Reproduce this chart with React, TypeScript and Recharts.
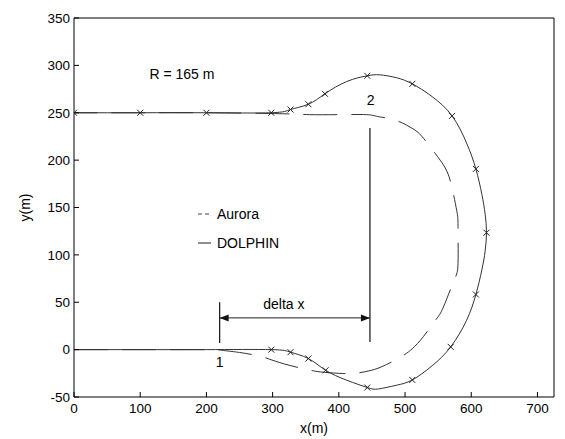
import {
  ComposedChart,
  Line,
  Scatter,
  XAxis,
  YAxis,
  ReferenceLine,
  ReferenceDot,
  Legend,
} from 'recharts'

const xTicks = [0, 100, 200, 300, 400, 500, 600, 700]
const yTicks = [-50, 0, 50, 100, 150, 200, 250, 300, 350]

// DOLPHIN (solid): lower straight, loop round, back along y = 250
const dolphinX = [0, 100, 200, 298, 327, 354, 380, 412, 443, 460, 487, 511, 541, 569, 593, 607, 616, 621, 623, 621, 616, 607, 593, 571, 541, 511, 487, 462, 443, 412, 379, 354, 327, 298, 200, 100, 0]
const dolphinY = [0, 0, 0, 0, -2.7, -9.4, -21.8, -32.3, -40, -41.5, -37.6, -32, -17, 2.9, 31, 58.2, 84, 104, 123.4, 143, 164, 190.7, 218, 246.7, 267, 280.5, 287, 290, 289, 283, 270, 259, 253.4, 250, 250, 250, 250]

// Aurora (dashed)
const auroraX = [0, 100, 200, 221, 250, 281, 299, 325, 352, 372, 400, 424, 445, 465, 493, 511, 528, 547, 558, 574, 580, 580, 578, 568, 553, 528, 512, 486, 459, 442, 400, 356, 311, 200, 100, 0]
const auroraY = [0, 0, 0, -0.5, -3, -7, -11, -16.5, -21, -23.5, -25, -25, -22.5, -18, -8, 1, 14, 32, 45, 73, 91, 130, 147, 179, 200, 223, 233, 242, 246, 248, 248, 248, 249, 250, 250, 250]

// x marks on the DOLPHIN track
const markX = [0, 100, 200, 298, 327, 354, 379, 443, 511, 571, 607, 623, 607, 569, 511, 443, 380, 354, 327, 298]
const markY = [250, 250, 250, 250, 253.4, 259, 270, 289, 280.5, 246.7, 190.7, 123.4, 58.2, 2.9, -32, -40, -21.8, -9.4, -2.7, 0]

const legendItems = [
  { name: 'Aurora', dash: '4 3' },
  { name: 'DOLPHIN', dash: undefined },
]

const dolphinData = dolphinX.map((x, i) => ({ x, y: dolphinY[i] }))
const auroraData = auroraX.map((x, i) => ({ x, y: auroraY[i] }))
const markData = markX.map((x, i) => ({ x, y: markY[i] }))

const ink = '#000'
const curve = '#333'
const tickStyle = { fill: ink, fontSize: 13.5 }

function XMark(props: any) {
  const { cx, cy } = props
  const s = 3
  return (
    <path
      d={`M${cx - s},${cy - s}L${cx + s},${cy + s}M${cx - s},${cy + s}L${cx + s},${cy - s}`}
      stroke="#222"
      strokeWidth={1}
      fill="none"
    />
  )
}

function DoubleArrow(props: any) {
  const { x1, y1, x2 } = props
  const l = Math.min(x1, x2)
  const r = Math.max(x1, x2)
  return (
    <g>
      <line x1={l} y1={y1} x2={r} y2={y1} stroke="#222" strokeWidth={1} />
      <polygon points={`${l},${y1} ${l + 9},${y1 - 3.5} ${l + 9},${y1 + 3.5}`} fill="#111" />
      <polygon points={`${r},${y1} ${r - 9},${y1 - 3.5} ${r - 9},${y1 + 3.5}`} fill="#111" />
    </g>
  )
}

function LegendBox() {
  return (
    <div style={{ fontSize: 14, color: ink }}>
      {legendItems.map((item) => (
        <div key={item.name} style={{ display: 'flex', alignItems: 'center', height: 29 }}>
          <svg width={13} height={4} style={{ marginRight: 6 }}>
            <line x1={0} y1={2} x2={13} y2={2} stroke="#444" strokeWidth={1.2} strokeDasharray={item.dash} />
          </svg>
          <span>{item.name}</span>
        </div>
      ))}
    </div>
  )
}

const note = (text: string, size = 14) => ({ value: text, position: 'center' as const, fill: ink, fontSize: size })

export default function App() {
  return (
    <div
      style={{
        position: 'absolute',
        left: 0,
        top: 0,
        width: 565,
        height: 439,
        background: '#fff',
        fontFamily: '"Liberation Sans", Arial, sans-serif',
      }}
    >
      <ComposedChart width={565} height={439} margin={{ top: 17, right: 10, left: 0, bottom: 0 }}>
        <XAxis
          dataKey="x"
          type="number"
          domain={[0, 725]}
          ticks={xTicks}
          allowDataOverflow
          height={42}
          tickSize={-5}
          tickMargin={11}
          tick={tickStyle}
          axisLine={{ stroke: ink }}
          tickLine={{ stroke: ink }}
          label={{ value: 'x(m)', position: 'insideBottom', offset: 6, fill: ink, fontSize: 14 }}
        />
        <XAxis
          xAxisId="top"
          orientation="top"
          dataKey="x"
          type="number"
          domain={[0, 725]}
          ticks={xTicks}
          allowDataOverflow
          height={1}
          tickSize={-5}
          tick={false}
          axisLine={{ stroke: ink }}
          tickLine={{ stroke: ink }}
        />
        <YAxis
          dataKey="y"
          type="number"
          domain={[-50, 350]}
          ticks={yTicks}
          allowDataOverflow
          width={74}
          tickSize={-5}
          tickMargin={9}
          tick={tickStyle}
          axisLine={{ stroke: ink }}
          tickLine={{ stroke: ink }}
          label={{ value: 'y(m)', angle: -90, position: 'insideLeft', offset: 25, fill: ink, fontSize: 14, style: { textAnchor: 'middle' } }}
        />
        <YAxis
          yAxisId="right"
          orientation="right"
          dataKey="y"
          type="number"
          domain={[-50, 350]}
          ticks={yTicks}
          allowDataOverflow
          width={1}
          tickSize={-5}
          tick={false}
          axisLine={{ stroke: ink }}
          tickLine={{ stroke: ink }}
        />
        <Legend
          layout="vertical"
          align="center"
          verticalAlign="middle"
          content={<LegendBox />}
          wrapperStyle={{ left: 198, top: 199, width: 120 }}
        />

        <Line
          data={auroraData}
          dataKey="y"
          name="Aurora"
          type="natural"
          stroke={curve}
          strokeWidth={1}
          strokeDasharray="34 14"
          dot={false}
          activeDot={false}
          isAnimationActive={false}
        />
        <Line
          data={dolphinData}
          dataKey="y"
          name="DOLPHIN"
          type="natural"
          stroke={curve}
          strokeWidth={1}
          dot={false}
          activeDot={false}
          isAnimationActive={false}
        />
        <Scatter data={markData} dataKey="y" shape={<XMark />} isAnimationActive={false} legendType="none" />

        <ReferenceLine segment={[{ x: 220, y: 7 }, { x: 220, y: 50 }]} stroke="#111" strokeWidth={1.2} />
        <ReferenceLine segment={[{ x: 447, y: 8 }, { x: 447, y: 234 }]} stroke="#111" strokeWidth={1.2} />
        <ReferenceLine segment={[{ x: 220, y: 33.5 }, { x: 447, y: 33.5 }]} shape={<DoubleArrow />} />

        <ReferenceDot x={163} y={291} r={0} fill="none" stroke="none" label={note('R = 165 m')} />
        <ReferenceDot x={317} y={48.5} r={0} fill="none" stroke="none" label={note('delta x')} />
        <ReferenceDot x={448} y={263.5} r={0} fill="none" stroke="none" label={note('2')} />
        <ReferenceDot x={220} y={-13.5} r={0} fill="none" stroke="none" label={note('1')} />
      </ComposedChart>
    </div>
  )
}
